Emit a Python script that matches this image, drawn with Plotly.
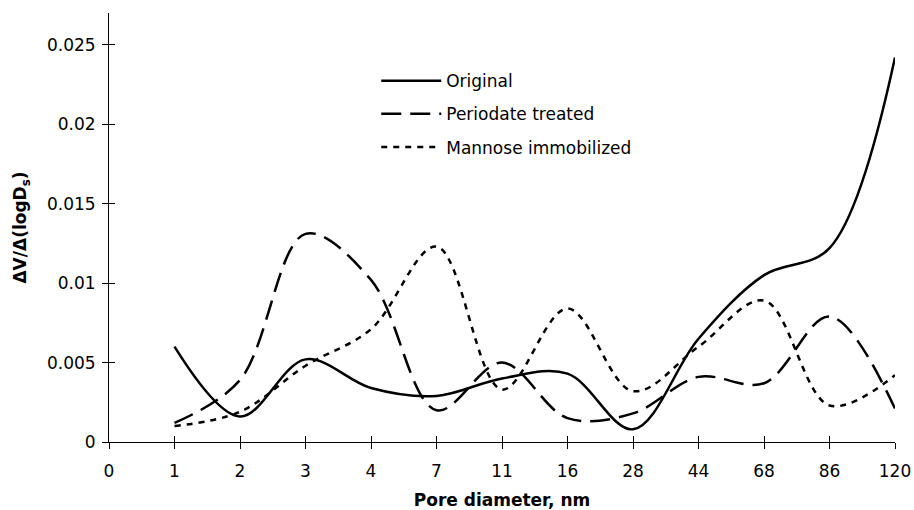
import plotly.graph_objects as go

categories = ["0", "1", "2", "3", "4", "7", "11", "16", "28", "44", "68", "86", "120"]
data_categories = ["1", "2", "3", "4", "7", "11", "16", "28", "44", "68", "86", "120"]

original = [0.0060, 0.0016, 0.0052, 0.0034, 0.0029, 0.0040, 0.0043, 0.0008, 0.0065, 0.0105, 0.0122, 0.0242]
periodate = [0.0012, 0.0039, 0.0131, 0.0102, 0.0020, 0.0050, 0.0015, 0.0018, 0.0041, 0.0037, 0.0079, 0.0021]
mannose = [0.0010, 0.0019, 0.0048, 0.0071, 0.0123, 0.0033, 0.0084, 0.0032, 0.0060, 0.0089, 0.0023, 0.0042]

y_tickvals = [0, 0.005, 0.01, 0.015, 0.02, 0.025]
y_ticktext = ["0", "0.005", "0.01", "0.015", "0.02", "0.025"]

xpos = [categories.index(c) for c in data_categories]
FONT = "DejaVu Sans"

fig = go.Figure()
series = [
    ("Original", original, "solid"),
    ("Periodate treated", periodate, "20px,9px"),
    ("Mannose immobilized", mannose, "6px,6px"),
]
for name, vals, dash in series:
    fig.add_trace(go.Scatter(
        x=xpos, y=vals, name=name, mode="lines",
        line=dict(color="black", width=2.5, dash=dash, shape="spline", smoothing=1.0),
        legendgroup=name,
    ))

axis_common = dict(showgrid=False, zeroline=False, showline=True, linecolor="black", linewidth=1,
                   tickcolor="black", ticklen=6, tickwidth=1, automargin=False)

fig.update_layout(
    width=914, height=510,
    margin=dict(l=109, r=19, t=13, b=68, autoexpand=False),
    paper_bgcolor="white", plot_bgcolor="white",
    font=dict(family=FONT, size=17, color="black"),
    showlegend=True,
    legend=dict(x=0.340, y=0.883, xanchor="left", yanchor="top", bgcolor="rgba(0,0,0,0)",
                font=dict(family=FONT, size=17, color="black"), tracegroupgap=8, itemwidth=60),
    xaxis=dict(range=[0, 12], tickmode="array", tickvals=list(range(len(categories))), ticktext=categories,
               ticks="outside", ticklabelstandoff=8,
               title=dict(text="<b>Pore diameter, nm</b>", font=dict(size=17), standoff=18), **axis_common),
    yaxis=dict(range=[0, 0.027], tickmode="array", tickvals=y_tickvals, ticktext=y_ticktext,
               ticks="outside", ticklabelstandoff=3,
               title=dict(text="<b>ΔV/Δ(logD<sub>s</sub>)</b>", font=dict(size=17)), **axis_common),
    xaxis2=dict(overlaying="x", matches="x", range=[0, 12], tickmode="array", tickvals=list(range(len(categories))),
                ticks="inside", showticklabels=False, showgrid=False, zeroline=False, showline=False,
                tickcolor="black", ticklen=6, tickwidth=1),
    yaxis2=dict(overlaying="y", matches="y", range=[0, 0.027], tickmode="array", tickvals=y_tickvals,
                ticks="inside", showticklabels=False, showgrid=False, zeroline=False, showline=False,
                tickcolor="black", ticklen=6, tickwidth=1),
)
# invisible helper trace to activate the overlay axes (tick marks crossing the axis lines)
fig.add_trace(go.Scatter(x=[None], y=[None], xaxis="x2", yaxis="y2", showlegend=False, hoverinfo="skip"))

fig.write_html("out.html")
